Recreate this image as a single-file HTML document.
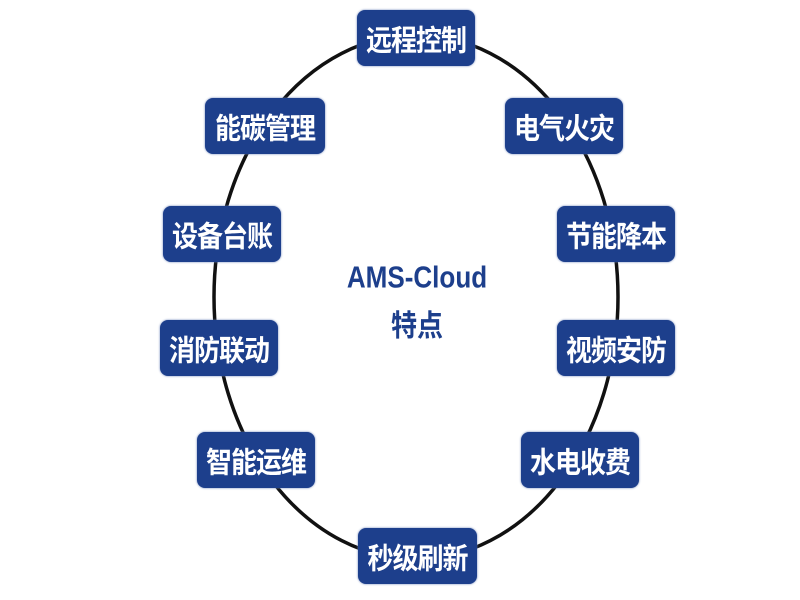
<!DOCTYPE html>
<html><head><meta charset="utf-8"><style>
body{margin:0;width:800px;height:600px;background:#fff;position:relative;overflow:hidden;font-family:"Liberation Sans","Noto Sans CJK SC",sans-serif}
.b{position:absolute;width:118px;height:56px;background:#1d3f8c;border-radius:8px;color:#fff;font-size:26px;font-weight:bold;display:flex;align-items:center;justify-content:center;letter-spacing:-1px;box-shadow:0 0 2px #6b82b8}
.b span{display:inline-block;transform:scaleY(1.12)}
.t{position:absolute;color:#1d3f8c;font-weight:bold;text-align:center;width:200px;left:317px;transform:scale(0.93,1.08)}
</style></head><body>
<svg width="800" height="600" style="position:absolute;left:0;top:0"><ellipse cx="416" cy="297" rx="202" ry="262" fill="none" stroke="#111" stroke-width="3.5"/></svg>
<div class="b" style="left:357px;top:10px"><span>远程控制</span></div>
<div class="b" style="left:205px;top:98px;width:120px"><span>能碳管理</span></div>
<div class="b" style="left:505px;top:98px"><span>电气火灾</span></div>
<div class="b" style="left:163px;top:206px"><span>设备台账</span></div>
<div class="b" style="left:557px;top:206px"><span>节能降本</span></div>
<div class="b" style="left:160px;top:320px"><span>消防联动</span></div>
<div class="b" style="left:557px;top:320px"><span>视频安防</span></div>
<div class="b" style="left:197px;top:432px"><span>智能运维</span></div>
<div class="b" style="left:521px;top:432px"><span>水电收费</span></div>
<div class="b" style="left:358px;top:528px;width:119px"><span>秒级刷新</span></div>
<div class="t" style="top:262px;font-size:28px">AMS-Cloud</div>
<div class="t" style="top:304px;font-size:28px">特点</div>
</body></html>
